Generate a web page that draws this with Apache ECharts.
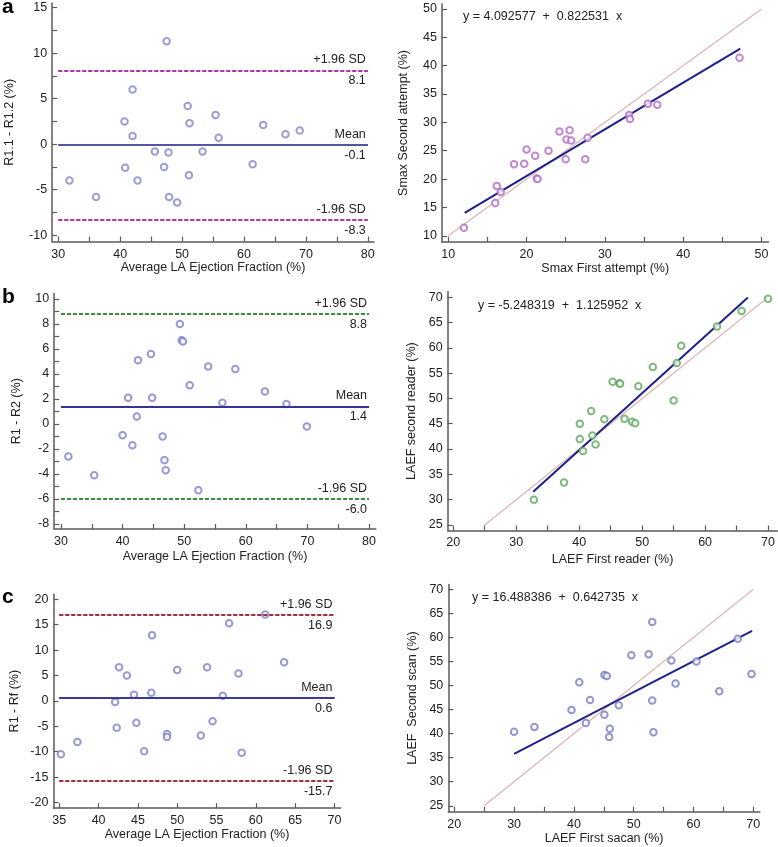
<!DOCTYPE html>
<html><head><meta charset="utf-8">
<script src="https://cdn.jsdelivr.net/npm/echarts@6/dist/echarts.min.js"></script>
<style>html,body{margin:0;padding:0;background:#fff}#c{width:778px;height:847px}</style>
</head><body><div id="c"></div>
<script>
// ---- data ----
const aL_x = [47.5,42.0,50.9,55.4,40.7,51.2,63.1,69.0,66.7,42.0,55.9,45.6,47.8,53.3,61.4,40.8,47.1,51.1,31.8,42.8,36.1,47.9,49.2];
const aL_y = [11.3,6.0,4.2,3.2,2.5,2.3,2.1,1.5,1.1,0.9,0.7,-0.8,-0.9,-0.8,-2.2,-2.6,-2.5,-3.4,-4.0,-4.0,-5.8,-5.8,-6.4];
const aR_x = [12.0,16.0,16.2,16.7,18.4,19.7,20.0,21.1,21.3,21.4,22.8,24.2,25.5,25.1,25.7,25.0,27.5,27.8,33.1,33.2,35.5,36.7,47.2];
const aR_y = [11.4,15.8,18.8,17.7,22.6,22.7,25.2,24.1,20.1,20.0,25.0,28.4,28.6,27.0,26.8,23.5,23.5,27.3,31.3,30.6,33.3,33.1,41.4];
const bL_x = [49.3,49.6,49.8,44.6,42.5,53.9,58.3,50.9,63.1,40.9,44.8,56.2,66.6,42.3,69.9,40.0,46.5,41.6,31.2,46.8,47.0,35.4,52.3];
const bL_y = [8.0,6.7,6.6,5.6,5.1,4.6,4.4,3.1,2.6,2.1,2.1,1.7,1.6,0.6,-0.2,-0.9,-1.0,-1.7,-2.6,-2.9,-3.7,-4.1,-5.3];
const bR_x = [32.8,37.6,40.1,40.1,40.6,41.9,42.1,42.6,44.0,45.3,46.4,46.5,47.2,48.4,48.9,49.4,51.7,55.0,55.5,56.2,61.9,65.8,70.0];
const bR_y = [30.0,33.4,45.0,42.0,39.6,47.5,42.7,40.9,45.9,53.3,53.0,52.9,46.0,45.4,45.1,52.4,56.2,49.6,57.0,60.4,64.2,67.3,69.7];
const cL_x = [61.2,56.6,46.8,63.6,42.6,53.8,50.0,57.8,43.6,46.7,44.5,55.8,42.1,54.5,44.8,42.3,48.7,48.7,53.0,37.3,45.8,58.2,35.2];
const cL_y = [17.0,15.3,12.9,7.6,6.6,6.6,6.1,5.4,5.0,1.6,1.2,1.0,-0.2,-4.0,-4.3,-5.3,-6.5,-7.1,-6.8,-8.1,-9.9,-10.2,-10.5];
const cR_x = [53.1,67.4,49.6,52.5,56.3,60.5,45.1,45.5,69.7,40.9,57.0,64.3,42.7,53.1,39.6,47.5,45.1,42.0,33.4,30.0,46.0,45.9,53.3];
const cR_y = [63.2,59.7,56.3,56.5,55.2,55.0,52.2,52.0,52.4,50.7,50.4,48.8,47.0,46.9,44.9,45.9,43.9,42.2,41.4,40.4,41.0,39.3,40.3];

// Bland-Altman limits [upper, mean, lower] and line x-range
const aL_limits = [8.1, -0.1, -8.3];
const bL_limits = [8.8, 1.4, -6.0];
const cL_limits = [16.9, 0.6, -15.7];
const aL_range = [30, 80];
const bL_range = [30, 80];
const cL_range = [35, 70];
const limitNames = ['+1.96 SD', 'Mean', '-1.96 SD'];

// regression [intercept, slope], x-range; identity range
const aR_reg = [4.092577, 0.822531];
const bR_reg = [-5.248319, 1.125952];
const cR_reg = [16.488386, 0.642735];
const aR_regX = [12.1, 47.3];
const bR_regX = [32.7, 66.8];
const cR_regX = [30.0, 69.8];
const aR_id = [10, 50];
const bR_id = [25, 70];
const cR_id = [25, 70];
const eqTexts = ['y = 4.092577  +  0.822531  x', 'y = -5.248319  +  1.125952  x', 'y = 16.488386  +  0.642735  x'];

// tick labels
const aL_xLab = [30,40,50,60,70,80], aL_xTick = [30,35,40,45,50,55,60,65,70,75,80];
const aL_yLab = [-10,-5,0,5,10,15],  aL_yTick = [-10,-7.5,-5,-2.5,0,2.5,5,7.5,10,12.5,15];
const aR_xLab = [10,20,30,40,50], aR_xTick = [10,15,20,25,30,35,40,45,50];
const aR_yLab = [10,15,20,25,30,35,40,45,50];
const bL_xLab = [30,40,50,60,70,80], bL_xTick = [30,35,40,45,50,55,60,65,70,75,80];
const bL_yLab = [-8,-6,-4,-2,0,2,4,6,8,10], bL_yTick = [-8,-7,-6,-5,-4,-3,-2,-1,0,1,2,3,4,5,6,7,8,9,10];
const bR_xLab = [20,30,40,50,60,70], bR_xTick = [20,25,30,35,40,45,50,55,60,65,70];
const bR_yLab = [25,30,35,40,45,50,55,60,65,70];
const cL_xLab = [35,40,45,50,55,60,65,70];
const cL_yLab = [-20,-15,-10,-5,0,5,10,15,20];
const cR_xLab = [20,30,40,50,60,70], cR_xTick = [20,25,30,35,40,45,50,55,60,65,70];
const cR_yLab = [25,30,35,40,45,50,55,60,65,70];

// ---- styling ----
const FONT = 'Liberation Sans';
const TXT = '#222';
const AX = '#5a5a5a';
const zip = (xs, ys) => xs.map((x, i) => [x, ys[i]]);

const grids = [
  {left: 52.1,  top: 3.15,  width: 321.9, height: 238.4},
  {left: 442.0, top: 3.9,   width: 326.5, height: 238.1},
  {left: 54.2,  top: 293.4, width: 321.6, height: 235.6},
  {left: 447.6, top: 291.7, width: 330.1, height: 238.8},
  {left: 53.4,  top: 594.2, width: 287.3, height: 213.9},
  {left: 448.3, top: 584.5, width: 311.6, height: 227.3}
];

function xAx(g, min, max, labels, ticks, name, gap) {
  return {type: 'value', gridIndex: g, min, max, splitLine: {show: false},
    axisLine: {onZero: false, lineStyle: {color: AX, width: 1.5}},
    axisTick: {inside: true, length: 5, customValues: ticks || labels, lineStyle: {color: AX, width: 1.2}},
    axisLabel: {customValues: labels, color: TXT, fontSize: 12.5, fontFamily: FONT, margin: 6},
    name, nameLocation: 'middle', nameGap: gap,
    nameTextStyle: {color: TXT, fontSize: 12.5, fontFamily: FONT}};
}
function yAx(g, min, max, labels, ticks, name, gap) {
  const o = xAx(g, min, max, labels, ticks, name, gap);
  o.axisLabel.margin = 5;
  return o;
}

const xAxis = [
  xAx(0, 29, 81, aL_xLab, aL_xTick, 'Average LA Ejection Fraction (%)', 19),
  xAx(1, 9.2, 50.9, aR_xLab, aR_xTick, 'Smax First attempt (%)', 18),
  xAx(2, 28.9, 81.1, bL_xLab, bL_xTick, 'Average LA Ejection Fraction (%)', 21),
  xAx(3, 19.1, 71.5, bR_xLab, bR_xTick, 'LAEF First reader (%)', 23),
  xAx(4, 34.25, 70.8, cL_xLab, null, 'Average LA Ejection Fraction (%)', 18),
  xAx(5, 19.0, 71.1, cR_xLab, cR_xTick, 'LAEF First sacan (%)', 20)
];
const yAxis = [
  yAx(0, -10.7, 15.5, aL_yLab, aL_yTick, 'R1.1 - R1.2 (%)', 36),
  yAx(1, 8.9, 50.9, aR_yLab, null, 'Smax Second attempt (%)', 32),
  yAx(2, -8.4, 10.45, bL_yLab, bL_yTick, 'R1 - R2 (%)', 31),
  yAx(3, 23.9, 71.1, bR_yLab, null, 'LAEF second reader (%)', 30),
  yAx(4, -21.1, 21.0, cL_yLab, null, 'R1 - Rf (%)', 32),
  yAx(5, 23.75, 71.0, cR_yLab, null, 'LAEF  Second scan (%)', 29)
];

function scatter(g, xs, ys, col) {
  return {type: 'scatter', xAxisIndex: g, yAxisIndex: g, data: zip(xs, ys),
    symbol: 'emptyCircle', symbolSize: 6.5, silent: true,
    itemStyle: {color: col, borderColor: col, borderWidth: 1.2}};
}
function baLines(g, limits, range, sdColor, meanColor) {
  const items = [];
  limits.forEach((v, i) => {
    const ls = i === 1 ? {color: meanColor, width: 2, type: 'solid'} : {color: sdColor, width: 1.6, type: [4, 2]};
    const lab = {show: true, color: TXT, fontSize: 12.5, fontFamily: FONT, distance: [2, 4]};
    items.push([{coord: [range[0], v], lineStyle: ls, label: Object.assign({}, lab, {position: 'insideEndTop', formatter: limitNames[i]})},
                {coord: [range[1], v]}]);
    items.push([{coord: [range[0], v], lineStyle: ls, label: Object.assign({}, lab, {position: 'insideEndBottom', formatter: v.toFixed(1)})},
                {coord: [range[1], v]}]);
  });
  return {type: 'line', xAxisIndex: g, yAxisIndex: g, data: [], silent: true,
    markLine: {silent: true, symbol: 'none', animation: false, data: items}};
}
function lineSeries(g, pts, col, w) {
  return {type: 'line', xAxisIndex: g, yAxisIndex: g, data: pts, showSymbol: false, silent: true,
    lineStyle: {color: col, width: w}, z: 1};
}
function regPts(reg, xr) { return xr.map(x => [x, reg[0] + reg[1] * x]); }
function idPts(r) { return r.map(v => [v, v]); }

const IDC = '#dcb4b4', REGC = '#1f1f8a';
const series = [
  baLines(0, aL_limits, aL_range, '#b0289c', '#55559a'),
  scatter(0, aL_x, aL_y, '#8585c8'),
  lineSeries(1, idPts(aR_id), IDC, 1.2),
  lineSeries(1, regPts(aR_reg, aR_regX), REGC, 2),
  scatter(1, aR_x, aR_y, '#b06cc4'),
  baLines(2, bL_limits, bL_range, '#2a8a2a', '#33339a'),
  scatter(2, bL_x, bL_y, '#8080c8'),
  lineSeries(3, idPts(bR_id), IDC, 1.2),
  lineSeries(3, regPts(bR_reg, bR_regX), REGC, 2),
  scatter(3, bR_x, bR_y, '#5fa85f'),
  baLines(4, cL_limits, cL_range, '#9c2232', '#3a3a98'),
  scatter(4, cL_x, cL_y, '#8080c8'),
  lineSeries(5, idPts(cR_id), IDC, 1.2),
  lineSeries(5, regPts(cR_reg, cR_regX), REGC, 2),
  scatter(5, cR_x, cR_y, '#7a7ac4')
];

const letterStyle = {fontSize: 21, fontWeight: 'bold', fontFamily: FONT, fill: '#000', verticalAlign: 'middle'};
const eqStyle = {fontSize: 12.5, fontFamily: FONT, fill: TXT, verticalAlign: 'middle'};
const graphic = [
  {type: 'text', left: 2, top: -3, style: Object.assign({text: 'a'}, letterStyle)},
  {type: 'text', left: 2, top: 287, style: Object.assign({text: 'b'}, letterStyle)},
  {type: 'text', left: 2, top: 587, style: Object.assign({text: 'c'}, letterStyle)},
  {type: 'text', left: 463, top: 10, style: Object.assign({text: eqTexts[0]}, eqStyle)},
  {type: 'text', left: 478, top: 299, style: Object.assign({text: eqTexts[1]}, eqStyle)},
  {type: 'text', left: 472, top: 591, style: Object.assign({text: eqTexts[2]}, eqStyle)}
];

const chart = echarts.init(document.getElementById('c'), null, {renderer: 'canvas'});
chart.setOption({animation: false, backgroundColor: '#fff', grid: grids, xAxis, yAxis, series, graphic});
</script></body></html>
